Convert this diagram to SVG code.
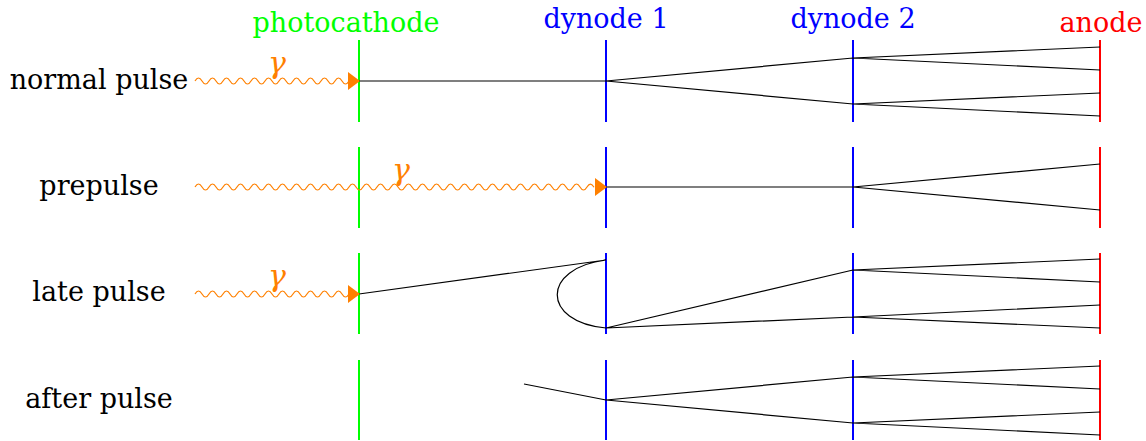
<svg xmlns="http://www.w3.org/2000/svg" width="1146" height="441" viewBox="0 0 1146 441">
<style>
.lbl{font-family:"DejaVu Serif","Liberation Serif",serif;font-size:27px;fill:#000;text-anchor:middle}
.hdr{font-family:"DejaVu Serif","Liberation Serif",serif;font-size:27px;text-anchor:middle}
.gam{font-family:"DejaVu Serif","Liberation Serif",serif;font-style:italic;font-size:30px;fill:#FF8000;text-anchor:middle}
.pc{stroke:#00FF00;stroke-width:2}
.dy{stroke:#0000FF;stroke-width:2}
.an{stroke:#FF0000;stroke-width:2}
.e{stroke:#000;stroke-width:1.2;fill:none}
.wave{stroke:#FF8000;stroke-width:1.2;fill:none}
.ah{fill:#FF8000}
</style>
<rect width="1146" height="441" fill="#fff"/>
<g id="headers">
<text class="hdr" x="346" y="32" fill="#00FF00">photocathode</text>
<text class="hdr" x="606" y="28" fill="#0000FF">dynode 1</text>
<text class="hdr" x="853" y="28" fill="#0000FF">dynode 2</text>
<text class="hdr" x="1101" y="32" fill="#FF0000">anode</text>
</g>
<g id="row-labels">
<text class="lbl" x="99" y="89">normal pulse</text>
<text class="lbl" x="99" y="195">prepulse</text>
<text class="lbl" x="99" y="301">late pulse</text>
<text class="lbl" x="99" y="408">after pulse</text>
</g>
<g id="electrodes">
<line class="pc" x1="359" y1="40" x2="359" y2="122"/>
<line class="pc" x1="359" y1="147" x2="359" y2="228"/>
<line class="pc" x1="359" y1="253" x2="359" y2="334"/>
<line class="pc" x1="359" y1="360" x2="359" y2="440"/>
<line class="dy" x1="606" y1="40" x2="606" y2="122"/>
<line class="dy" x1="606" y1="147" x2="606" y2="228"/>
<line class="dy" x1="606" y1="253" x2="606" y2="334"/>
<line class="dy" x1="606" y1="360" x2="606" y2="440"/>
<line class="dy" x1="853" y1="40" x2="853" y2="122"/>
<line class="dy" x1="853" y1="147" x2="853" y2="228"/>
<line class="dy" x1="853" y1="253" x2="853" y2="334"/>
<line class="dy" x1="853" y1="360" x2="853" y2="440"/>
<line class="an" x1="1100" y1="40" x2="1100" y2="122"/>
<line class="an" x1="1100" y1="147" x2="1100" y2="228"/>
<line class="an" x1="1100" y1="253" x2="1100" y2="334"/>
<line class="an" x1="1100" y1="360" x2="1100" y2="440"/>
</g>
<g id="connectors">
<path class="e" d="M359 81 L606 81 M606 81 L853 58 M606 81 L853 104 M853 58 L1100 47 M853 58 L1100 70 M853 104 L1100 93 M853 104 L1100 116"/>
<path class="e" d="M606 187 L853 187 M853 187 L1100 164 M853 187 L1100 210"/>
<path class="e" d="M359 294 L606 260 C541 268 541 322 606 328 M606 328 L853 270 M606 328 L853 317 M853 270 L1100 259 M853 270 L1100 282 M853 317 L1100 305 M853 317 L1100 328"/>
<path class="e" d="M524 384 L606 400 M606 400 L853 377 M606 400 L853 423 M853 377 L1100 366 M853 377 L1100 389 M853 423 L1100 412 M853 423 L1100 435"/>
</g>
<g id="photons">
<path class="wave" d="M195 81 q3.5 -6 7 0 t7 0 t7 0 t7 0 t7 0 t7 0 t7 0 t7 0 t7 0 t7 0 t7 0 t7 0 t7 0 t7 0 t7 0 t7 0 t7 0 t7 0 t7 0 t7 0 t7 0 t7 0"/>
<polygon class="ah" points="360,81 348,72 348,90"/>
<text class="gam" x="277" y="73">γ</text>
<path class="wave" d="M195 187 q3.5 -6 7 0 t7 0 t7 0 t7 0 t7 0 t7 0 t7 0 t7 0 t7 0 t7 0 t7 0 t7 0 t7 0 t7 0 t7 0 t7 0 t7 0 t7 0 t7 0 t7 0 t7 0 t7 0 t7 0 t7 0 t7 0 t7 0 t7 0 t7 0 t7 0 t7 0 t7 0 t7 0 t7 0 t7 0 t7 0 t7 0 t7 0 t7 0 t7 0 t7 0 t7 0 t7 0 t7 0 t7 0 t7 0 t7 0 t7 0 t7 0 t7 0 t7 0 t7 0 t7 0 t7 0 t7 0 t7 0 t7 0 t7 0.2"/>
<polygon class="ah" points="607,187 595,178 595,196"/>
<text class="gam" x="401" y="180">γ</text>
<path class="wave" d="M195 294 q3.5 -6 7 0 t7 0 t7 0 t7 0 t7 0 t7 0 t7 0 t7 0 t7 0 t7 0 t7 0 t7 0 t7 0 t7 0 t7 0 t7 0 t7 0 t7 0 t7 0 t7 0 t7 0 t7 0"/>
<polygon class="ah" points="360,294 348,285 348,303"/>
<text class="gam" x="277" y="286">γ</text>
</g>
</svg>
